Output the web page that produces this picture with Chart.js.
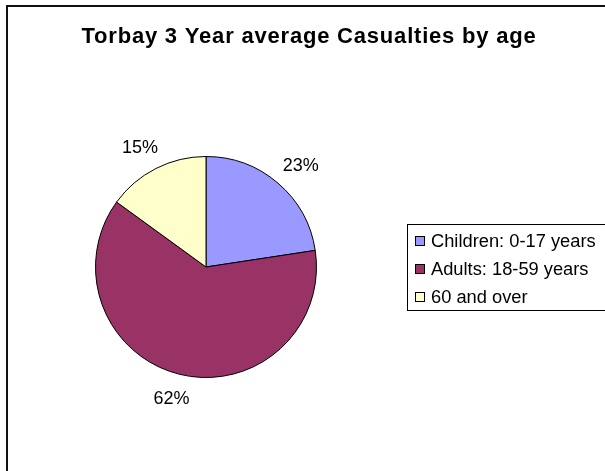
<!DOCTYPE html>
<html><head><meta charset="utf-8">
<script src="https://cdn.jsdelivr.net/npm/chart.js@4/dist/chart.umd.min.js"></script>
<style>
html,body{margin:0;padding:0;background:#fff;overflow:hidden}
#wrap{position:relative;width:605px;height:471px;overflow:hidden}
#frame{position:absolute;left:6px;top:5px;width:640px;height:500px;border:2px solid #111;box-sizing:border-box}
canvas{position:absolute;left:0;top:0}
</style></head>
<body><div id="wrap"><div id="frame"></div><canvas id="c" width="605" height="471"></canvas></div>
<script>
const chartTitle = "Torbay 3 Year average Casualties by age";
const categories = ["Children: 0-17 years", "Adults: 18-59 years", "60 and over"];
const casualtyShare = [22.6, 62.4, 15.0];
const sliceColors = ["#9999FF", "#993366", "#FFFFCC"];

const FONT = '"Liberation Sans", Arial, sans-serif';

const overlay = {
  id: 'overlay',
  afterDraw(chart) {
    const ctx = chart.ctx;
    ctx.save();
    // title
    ctx.fillStyle = '#000';
    ctx.font = 'bold 22px ' + FONT;
    if ('letterSpacing' in ctx) ctx.letterSpacing = '0.8px';
    ctx.textAlign = 'center';
    ctx.textBaseline = 'alphabetic';
    ctx.fillText(chartTitle, 309, 43);
    if ('letterSpacing' in ctx) ctx.letterSpacing = '0px';

    // percent labels
    const meta = chart.getDatasetMeta(0);
    const total = casualtyShare.reduce((a, b) => a + b, 0);
    ctx.font = '18px ' + FONT;
    ctx.textAlign = 'center';
    ctx.textBaseline = 'middle';
    meta.data.forEach((arc, i) => {
      const p = arc.getProps(['x', 'y', 'startAngle', 'endAngle', 'outerRadius'], true);
      const mid = (p.startAngle + p.endAngle) / 2;
      const dx = Math.cos(mid), dy = Math.sin(mid);
      const txt = Math.round(casualtyShare[i] / total * 100) + '%';
      const w = ctx.measureText(txt).width, h = 14;
      const d = p.outerRadius + 17;
      ctx.fillText(txt, p.x + dx * d + dx * w / 2, p.y + dy * d + dy * h / 2 + 1);
    });

    // legend
    const lx = 407, ly = 224, lw = 198, lh = 86;
    ctx.strokeStyle = '#000';
    ctx.lineWidth = 1;
    ctx.strokeRect(lx + 0.5, ly + 0.5, lw, lh);
    ctx.font = '18.3px ' + FONT;
    ctx.textAlign = 'left';
    ctx.textBaseline = 'middle';
    categories.forEach((c, i) => {
      const cy = ly + 17 + i * 28;
      ctx.fillStyle = sliceColors[i];
      ctx.fillRect(lx + 8, cy - 5, 10, 10);
      ctx.strokeRect(lx + 8.5, cy - 4.5, 9, 9);
      ctx.fillStyle = '#000';
      ctx.fillText(c, lx + 24, cy + 1);
    });
    ctx.restore();
  }
};

new Chart(document.getElementById('c'), {
  type: 'pie',
  data: {
    labels: categories,
    datasets: [{
      data: casualtyShare,
      backgroundColor: sliceColors,
      borderColor: '#000',
      borderWidth: 1
    }]
  },
  options: {
    responsive: false,
    animation: false,
    layout: { padding: { left: 95, top: 156, right: 288, bottom: 93 } },
    plugins: { legend: { display: false }, title: { display: false }, tooltip: { enabled: false } }
  },
  plugins: [overlay]
});
</script>
</body></html>
